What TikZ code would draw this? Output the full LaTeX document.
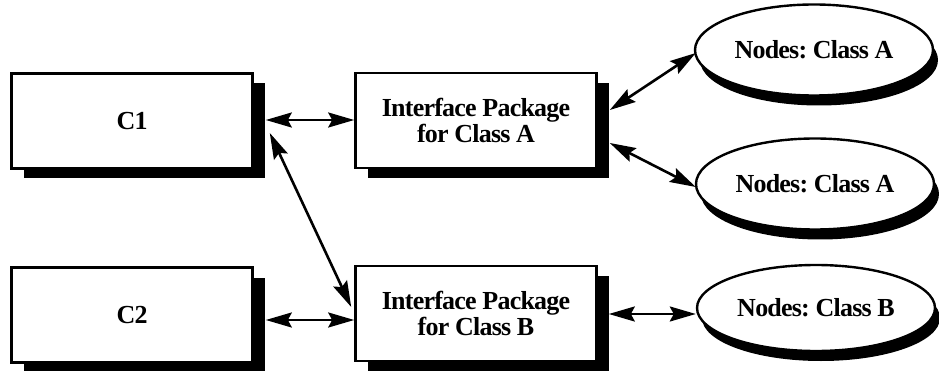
\documentclass[tikz,border=0pt]{standalone}
\usepackage{fontspec}
\setmainfont{Liberation Serif}[LetterSpace=-3]
\usetikzlibrary{shapes.geometric,shadows,arrows.meta}
\begin{document}
\frenchspacing
\begin{tikzpicture}[x=1pt,y=-1pt,
  every node/.style={font=\fontsize{26}{26}\selectfont\bfseries, text=black},
  box/.style={draw, line width=2.6pt, fill=white, rectangle, inner sep=0pt,
    minimum width=241pt, minimum height=95pt, align=center,
    drop shadow={shadow xshift=12pt, shadow yshift=-10pt, fill=black, opacity=1}},
  oval/.style={draw, line width=2.4pt, fill=white, ellipse, inner sep=0pt,
    minimum width=238pt, minimum height=91pt,
    drop shadow={shadow xshift=5pt, shadow yshift=-10pt, fill=black, opacity=1}},
  link/.style={line width=2.6pt,
    {Stealth[length=26pt,width=15pt,inset=4pt]}-{Stealth[length=26pt,width=15pt,inset=4pt]}}
]
\useasboundingbox (0,0) rectangle (939,371);

% left column: the two components
\node[box] (C1) at (132,121) {C1};
\node[box] (C2) at (132,315) {C2};

% middle column: interface packages
\node[box] (IA) at (476,120.5) {Interface Package\\for Class A};
\node[box] (IB) at (476,313.5) {Interface Package\\for Class B};

% right column: node groups
\node[oval] (E1) at (814,50) {Nodes: Class A};
\node[oval] (E2) at (815,184) {Nodes: Class A};
\node[oval, minimum height=86pt] (E3) at (816,308) {Nodes: Class B};

% connections
\draw[link] ([xshift=12pt,yshift=1pt]C1.east) -- ([yshift=0.5pt]IA.west);
\draw[link] ([xshift=16pt,yshift=-12pt]C1.east) -- ([xshift=-3pt,yshift=6.5pt]IB.west);
\draw[link] ([xshift=12pt,yshift=-5pt]C2.east) -- ([yshift=-6.5pt]IB.west);
\draw[link] ([xshift=12pt,yshift=10.5pt]IA.east) -- ([xshift=2pt,yshift=-3pt]E1.west);
\draw[link] ([xshift=12pt,yshift=-22.5pt]IA.east) -- ([xshift=1pt,yshift=-3pt]E2.west);
\draw[link] ([xshift=11pt,yshift=-0.5pt]IB.east) -- ([yshift=-6pt]E3.west);
\end{tikzpicture}
\end{document}
